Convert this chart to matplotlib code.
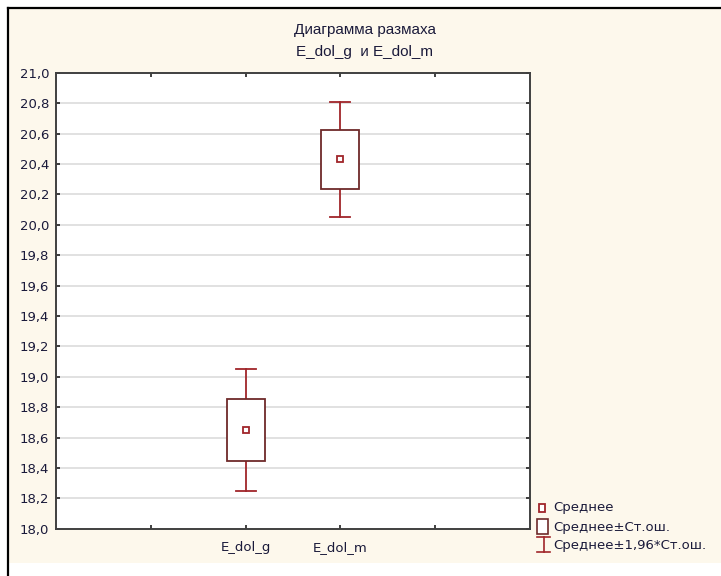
import matplotlib
matplotlib.use("Agg")
import matplotlib.pyplot as plt
from matplotlib.patches import Rectangle
from matplotlib.lines import Line2D

plt.rcParams['font.family'] = ['DejaVu Sans']

# values
categories = ['E_dol_g', 'E_dol_m']
positions = [2, 3]
means = [18.65, 20.43]
std_err = [0.204, 0.193]
y_ticks = [18.0, 18.2, 18.4, 18.6, 18.8, 19.0, 19.2, 19.4, 19.6, 19.8,
           20.0, 20.2, 20.4, 20.6, 20.8, 21.0]

cream = '#fdf8ec'
box_col = '#6e2a2a'
whisk_col = '#a0252a'
text_col = '#1a1a3a'

fig = plt.figure(figsize=(7.21, 5.76), dpi=100)
fig.patch.set_facecolor('white')

W, H = 721.0, 576.0
def fx(px):
    return px / W
def fy(py):
    return 1 - py / H

# cream panel and dark frame lines
fig.add_artist(Rectangle((fx(9), fy(563)), 1 - fx(9), fy(9) - fy(563),
                         transform=fig.transFigure, facecolor=cream,
                         edgecolor='none', zorder=0))
fig.add_artist(Line2D([fx(8), 1], [fy(8), fy(8)], transform=fig.transFigure,
                      color='black', lw=1.6))
fig.add_artist(Line2D([fx(8), fx(8)], [fy(8), 0], transform=fig.transFigure,
                      color='black', lw=1.6))

ax = fig.add_axes([fx(56), fy(528.7), fx(530) - fx(56), fy(72.7) - fy(528.7)])
ax.set_facecolor('white')

box_w = 0.4
cap_w = 0.21
for x, m, s in zip(positions, means, std_err):
    lo, hi = m - 1.96 * s, m + 1.96 * s
    ax.plot([x, x], [lo, m - s], color=whisk_col, lw=1.3, zorder=3)
    ax.plot([x, x], [m + s, hi], color=whisk_col, lw=1.3, zorder=3)
    ax.plot([x - cap_w / 2, x + cap_w / 2], [hi, hi], color=whisk_col, lw=1.3, zorder=3)
    ax.plot([x - cap_w / 2, x + cap_w / 2], [lo, lo], color=whisk_col, lw=1.3, zorder=3)
    ax.add_patch(Rectangle((x - box_w / 2, m - s), box_w, 2 * s,
                           facecolor='white', edgecolor=box_col, lw=1.3, zorder=3))
    ax.plot([x], [m], marker='s', ms=5, mfc='white', mec=whisk_col, mew=1.3,
            ls='none', zorder=4)

ax.set_xlim(0, 5)
ax.set_ylim(18, 21)
ax.set_xticks([1, 2, 3, 4])
ax.set_xticklabels(['', categories[0], categories[1], ''])
ax.set_yticks(y_ticks)
ax.set_yticklabels([f'{v:.1f}'.replace('.', ',') for v in y_ticks])
ax.tick_params(axis='both', direction='in', length=3, width=1.2, color='#202020',
               labelsize=9.5, labelcolor=text_col, top=True, right=True)
ax.tick_params(axis='y', pad=5)
ax.tick_params(axis='x', pad=9)
for v in y_ticks[1:-1]:
    ax.axhline(v, color='#dcdcdc', lw=1.2, zorder=1)
for sp in ax.spines.values():
    sp.set_color('#404040')
    sp.set_linewidth(1.4)

# title
fig.text(fx(364.5), fy(30), 'Диаграмма размаха', ha='center', va='center',
         fontsize=11, color=text_col, family=['Liberation Sans'])
fig.text(fx(364.5), fy(52), 'E_dol_g  и E_dol_m', ha='center', va='center',
         fontsize=11, color=text_col, family=['Liberation Sans'])

# legend
leg_labels = ['Среднее', 'Среднее±Ст.ош.', 'Среднее±1,96*Ст.ош.']
fig.add_artist(Rectangle((fx(539), fy(512)), fx(545) - fx(539), fy(504) - fy(512),
                         transform=fig.transFigure, facecolor='white',
                         edgecolor=whisk_col, lw=1.3))
fig.add_artist(Rectangle((fx(537), fy(534)), fx(548) - fx(537), fy(519) - fy(534),
                         transform=fig.transFigure, facecolor='white',
                         edgecolor=box_col, lw=1.2))
fig.add_artist(Line2D([fx(543.5), fx(543.5)], [fy(537), fy(552)], transform=fig.transFigure,
                      color=whisk_col, lw=1.2))
fig.add_artist(Line2D([fx(537), fx(550)], [fy(537), fy(537)], transform=fig.transFigure,
                      color=whisk_col, lw=1.2))
fig.add_artist(Line2D([fx(537), fx(550)], [fy(552), fy(552)], transform=fig.transFigure,
                      color=whisk_col, lw=1.2))
for lbl, py in zip(leg_labels, [508, 527, 545]):
    fig.text(fx(553), fy(py), lbl, ha='left', va='center', fontsize=9.5, color=text_col)

fig.savefig('out.png', dpi=100, facecolor=fig.get_facecolor())
